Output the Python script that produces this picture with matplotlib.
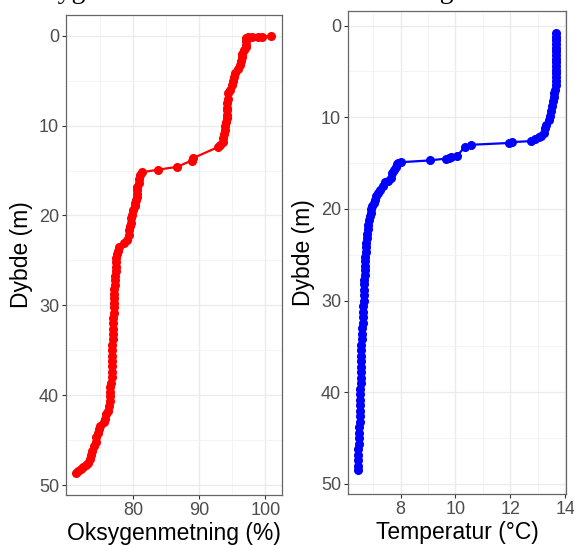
import matplotlib as mpl
mpl.use('Agg')
import matplotlib.pyplot as plt
import numpy as np

# oxygen saturation profile (depth m, %)
oxy_depth = [0.0, 0.1, 0.1, 0.15, 0.2, 0.3, 0.6, 1.0, 1.3, 1.6, 2.0, 2.4, 2.8, 3.3, 3.7,
             4.2, 4.6, 5.0, 5.5, 6.0, 6.4, 7.0, 7.5, 8.0, 8.3, 8.8, 9.2, 9.6, 10.0, 10.5,
             10.9, 11.4, 11.8, 12.2, 12.4, 13.6, 13.9, 14.6, 14.9, 15.2, 15.5, 16.0, 16.4,
             16.8, 17.2, 17.6, 17.9, 18.3, 18.6, 19.0, 19.4, 19.9, 20.3, 20.8, 21.2, 21.6,
             22.2, 22.7, 23.1, 23.5, 23.9, 24.3, 24.7, 25.2, 25.7, 26.2, 26.7, 27.2, 27.7,
             28.2, 28.7, 29.2, 29.7, 30.2, 30.8, 31.4, 32.0, 32.6, 33.2, 33.8, 34.4, 35.0,
             35.6, 36.2, 36.8, 37.4, 38.0, 38.6, 39.1, 39.6, 40.1, 40.6, 41.2, 41.7, 42.1,
             42.6, 43.0, 43.4, 43.8, 44.2, 44.7, 45.2, 45.7, 46.2, 46.7, 47.1, 47.5, 47.8,
             48.0, 48.2, 48.4, 48.6]
oxy_sat = [100.9, 99.5, 98.8, 98.0, 97.4, 97.1, 97.1, 97.1, 97.0, 96.8, 96.5, 96.4, 96.3,
           96.1, 95.8, 95.4, 95.3, 95.1, 95.0, 94.6, 94.3, 94.3, 94.2, 94.1, 94.1, 94.2,
           94.1, 94.0, 93.8, 93.8, 93.7, 93.6, 93.5, 93.1, 92.8, 89.1, 88.8, 86.6, 83.8,
           81.3, 81.0, 80.9, 80.8, 80.6, 80.5, 80.6, 80.5, 80.4, 80.3, 80.2, 80.0, 79.8,
           79.7, 79.6, 79.5, 79.4, 79.3, 79.1, 78.6, 77.8, 77.7, 77.5, 77.4, 77.4, 77.3,
           77.3, 77.2, 77.2, 77.2, 77.1, 77.1, 77.0, 77.0, 77.0, 77.0, 76.9, 76.9, 76.9,
           76.9, 76.9, 76.8, 76.8, 76.8, 76.8, 76.8, 76.7, 76.7, 76.6, 76.5, 76.5, 76.4,
           76.4, 76.3, 76.1, 75.9, 75.7, 75.5, 74.9, 74.8, 74.6, 74.4, 74.3, 74.0, 73.8,
           73.6, 73.4, 73.2, 72.8, 72.4, 72.0, 71.6, 71.3]

# temperature profile (depth m, degC)
temp_depth = [0.8, 1.2, 1.6, 2.0, 2.4, 2.8, 3.2, 3.6, 4.0, 4.4, 4.8, 5.2, 5.6, 6.0, 6.5,
              7.0, 7.4, 7.8, 8.2, 8.8, 9.3, 9.9, 10.3, 10.8, 11.2, 11.7, 12.0, 12.2, 12.4,
              12.6, 12.7, 12.8, 13.0, 13.2, 14.2, 14.3, 14.4, 14.5, 14.7, 14.9, 15.0, 15.1,
              15.4, 15.7, 16.1, 16.6, 16.9, 17.1, 17.5, 17.9, 18.3, 18.6, 19.0, 19.3, 19.7,
              20.0, 20.4, 20.8, 21.2, 21.7, 22.2, 22.7, 23.2, 23.7, 24.2, 24.7, 25.2, 25.7,
              26.2, 26.7, 27.2, 27.7, 28.2, 28.8, 29.4, 30.0, 30.6, 31.2, 31.8, 32.4, 33.0,
              33.6, 34.2, 34.8, 35.4, 36.0, 36.6, 37.2, 37.8, 38.4, 39.0, 39.6, 40.2, 40.8,
              41.4, 42.0, 42.6, 43.2, 43.8, 44.4, 45.0, 45.6, 46.2, 46.8, 47.4, 48.0, 48.5]
temp_c = [13.67, 13.67, 13.67, 13.66, 13.66, 13.66, 13.65, 13.65, 13.65, 13.65, 13.64,
          13.64, 13.64, 13.64, 13.64, 13.63, 13.60, 13.57, 13.55, 13.52, 13.49, 13.45,
          13.39, 13.31, 13.27, 13.21, 13.10, 13.03, 12.90, 12.73, 12.06, 11.95, 10.55,
          10.35, 10.06, 9.82, 9.75, 9.64, 9.09, 8.00, 7.92, 7.88, 7.82, 7.76, 7.70, 7.64,
          7.55, 7.45, 7.35, 7.25, 7.17, 7.12, 7.09, 7.03, 6.97, 6.94, 6.91, 6.88, 6.86,
          6.83, 6.81, 6.79, 6.77, 6.75, 6.74, 6.73, 6.72, 6.71, 6.71, 6.70, 6.70, 6.69,
          6.69, 6.68, 6.67, 6.66, 6.65, 6.64, 6.63, 6.62, 6.61, 6.60, 6.59, 6.58, 6.58,
          6.57, 6.57, 6.56, 6.56, 6.55, 6.55, 6.54, 6.54, 6.53, 6.53, 6.52, 6.51, 6.51,
          6.50, 6.50, 6.49, 6.48, 6.47, 6.47, 6.46, 6.46, 6.46]

plt.rcParams['font.family'] = ['Liberation Sans', 'DejaVu Sans']

W, H = 574, 545
fig = plt.figure(figsize=(W / 100, H / 100), dpi=100)


def style_axes(ax, xticks, xminor, yticks, yminor):
    ax.set_xticks(xticks)
    ax.set_xticks(xminor, minor=True)
    ax.set_yticks(yticks)
    ax.set_yticks(yminor, minor=True)
    ax.grid(which='major', color='#ebebeb', lw=1.0, zorder=0)
    ax.grid(which='minor', color='#f3f3f3', lw=0.6, zorder=0)
    ax.set_axisbelow(True)
    for s in ax.spines.values():
        s.set_color('#666666')
        s.set_linewidth(0.9)
    ax.tick_params(which='major', length=3, width=0.8, color='#333333',
                   labelsize=13, labelcolor='#4d4d4d', pad=2)
    ax.tick_params(which='minor', length=0)


def add_axes(x0, y0, x1, y1):
    return fig.add_axes([x0 / W, 1 - y1 / H, (x1 - x0) / W, (y1 - y0) / H])


ax1 = add_axes(66, 15, 282, 495)
ax1.plot(oxy_sat, oxy_depth, '-o', color='red', lw=1.6, ms=5.5, zorder=3)
ax1.set_xlim(69.8, 102.5)
ax1.set_ylim(51.1, -2.3)
style_axes(ax1, [80, 90, 100], [75, 85, 95], [0, 10, 20, 30, 40, 50],
           [5, 15, 25, 35, 45])
ax1.set_xlabel('Oksygenmetning (%)', fontsize=16.5, labelpad=2)
ax1.set_ylabel('Dybde (m)', fontsize=16.5, labelpad=4)

ax2 = add_axes(348, 11, 566, 494)
ax2.plot(temp_c, temp_depth, '-o', color='blue', lw=1.6, ms=5.5, zorder=3)
ax2.set_xlim(6.09, 14.02)
ax2.set_ylim(51.1, -1.6)
style_axes(ax2, [8, 10, 12, 14], [7, 9, 11, 13], [0, 10, 20, 30, 40, 50],
           [5, 15, 25, 35, 45])
ax2.set_xlabel('Temperatur (°C)', fontsize=16.5, labelpad=2)
ax2.set_ylabel('Dybde (m)', fontsize=16.5, labelpad=4)

# caption text cut off at the top edge of the image
fig.text(14 / W, 1 + 2 / H, 'Oksygen', fontsize=20, family='Liberation Serif',
         va='baseline', ha='left')
fig.text(376 / W, 1 + 2 / H, 'måling', fontsize=20, family='Liberation Serif',
         va='baseline', ha='left')

plt.savefig('out.png', dpi=100)
